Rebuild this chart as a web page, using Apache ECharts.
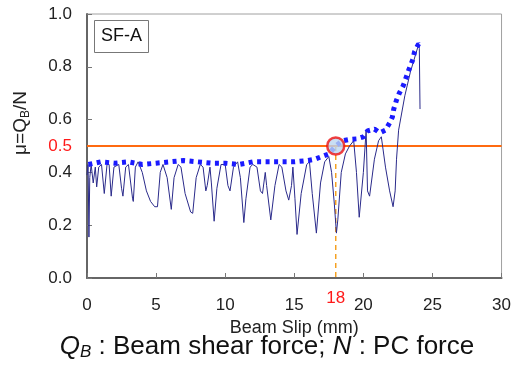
<!DOCTYPE html>
<html>
<head>
<meta charset="utf-8">
<script src="https://cdn.jsdelivr.net/npm/echarts@6/dist/echarts.min.js"></script>
<style>html,body{margin:0;padding:0;background:#fff;}#c{width:514px;height:367px;}</style>
</head>
<body>
<div id="c"></div>
<script>
// Thin measured curve (beam slip mm, mu)
const slipX = [0,0.08,0.14,0.2,0.3,0.45,0.6,0.7,0.85,1.05,1.25,1.45,1.6,1.75,1.95,2.3,2.5,2.6,2.8,3.0,3.3,3.35,3.5,3.7,4.0,4.3,4.6,4.9,5.1,5.3,5.5,5.8,6.1,6.3,6.6,6.8,7.1,7.5,7.65,7.9,8.2,8.4,8.6,8.7,8.9,9.0,9.2,9.4,9.7,10.0,10.2,10.35,10.6,10.9,11.1,11.35,11.5,11.8,12.0,12.3,12.55,12.7,12.9,13.0,13.3,13.6,13.9,14.1,14.4,14.6,14.8,14.9,15.05,15.2,15.5,15.9,16.1,16.3,16.6,16.9,17.2,17.5,17.7,17.9,18.05,18.15,18.4,18.7,19.0,19.3,19.5,19.7,20.0,20.2,20.3,20.45,20.8,21.1,21.3,21.6,21.9,22.15,22.3,22.4,22.55,23.0,23.4,24.0,24.05,24.1];
const muY =   [0.39,0.43,0.155,0.38,0.43,0.36,0.42,0.345,0.42,0.43,0.32,0.43,0.43,0.31,0.42,0.43,0.34,0.31,0.42,0.43,0.30,0.29,0.42,0.44,0.40,0.33,0.29,0.27,0.27,0.40,0.43,0.38,0.26,0.38,0.43,0.42,0.32,0.25,0.245,0.38,0.43,0.42,0.33,0.35,0.42,0.36,0.215,0.34,0.43,0.43,0.35,0.33,0.42,0.44,0.38,0.21,0.30,0.42,0.43,0.42,0.33,0.32,0.40,0.35,0.22,0.35,0.43,0.42,0.33,0.295,0.35,0.42,0.30,0.165,0.32,0.43,0.44,0.32,0.17,0.36,0.44,0.46,0.40,0.28,0.17,0.22,0.40,0.47,0.50,0.52,0.40,0.23,0.40,0.56,0.33,0.31,0.45,0.52,0.535,0.42,0.33,0.27,0.33,0.45,0.56,0.69,0.78,0.885,0.87,0.64];
// Envelope (dotted)
const envX = [0.1,1,2,3,4,5,6,7,8,9,10,11,12,13,14,15,16,16.5,17,17.5,18,18.5,19,19.5,20,20.3,20.8,21.2,21.6,21.9,22.1,22.2,22.4,22.6,22.9,23.1,23.3,23.6,23.7,24.0,24.2];
const envY = [0.43,0.44,0.435,0.44,0.43,0.435,0.44,0.445,0.44,0.435,0.435,0.43,0.44,0.44,0.44,0.44,0.445,0.45,0.46,0.47,0.50,0.52,0.525,0.527,0.535,0.557,0.564,0.55,0.56,0.587,0.61,0.64,0.674,0.70,0.73,0.76,0.79,0.83,0.856,0.887,0.875];
const xTicks = [0,5,10,15,20,25,30];
const yTicks = [0,0.2,0.4,0.6,0.8,1.0];
const muLimit = 0.5;
const slipAtLimit = 18;
const specimen = 'SF-A';

const FONT = 'Liberation Sans';
const chart = echarts.init(document.getElementById('c'), null, {renderer:'canvas'});
const thin = slipX.map((x,i)=>[x,muY[i]]);
const env = envX.map((x,i)=>[x,envY[i]]);

chart.setOption({
  animation:false,
  grid:{left:87,right:7,top:14,bottom:89,show:true,borderColor:'#a0a0a0',borderWidth:1,backgroundColor:'transparent'},
  xAxis:{type:'value',min:0,max:30,interval:5,
    name:'Beam Slip (mm)',nameLocation:'middle',nameGap:36,
    nameTextStyle:{fontFamily:FONT,fontSize:18,color:'#222'},
    axisLine:{show:true,lineStyle:{color:'#666',width:2}},
    axisTick:{show:true,inside:true,length:5,lineStyle:{color:'#777'}},
    axisLabel:{fontFamily:FONT,fontSize:17,color:'#222',margin:19,formatter:v=>xTicks.includes(v)?String(v):''},
    splitLine:{show:false}},
  yAxis:{type:'value',min:0,max:1,interval:0.2,
    axisLine:{show:true,lineStyle:{color:'#666',width:2}},
    axisTick:{show:true,inside:true,length:5,lineStyle:{color:'#777'}},
    axisLabel:{fontFamily:FONT,fontSize:17,color:'#222',margin:15,formatter:v=>yTicks.some(t=>Math.abs(t-v)<1e-9)?v.toFixed(1):''},
    splitLine:{show:false}},
  series:[
    {type:'line',data:[[0,muLimit],[30,muLimit]],symbol:'none',lineStyle:{color:'#ff6a10',width:2},z:2,silent:true},
    {type:'line',data:[[slipAtLimit,muLimit],[slipAtLimit,0]],symbol:'none',lineStyle:{color:'#f5a020',width:1.5,type:[5,4]},z:2},
    {type:'line',data:thin,symbol:'none',lineStyle:{color:'#2a2a8a',width:1},z:3},
    {type:'line',data:env,symbol:'none',lineStyle:{color:'#1a1aff',width:5,type:[4,4.5]},z:4},
    {type:'scatter',data:[[slipAtLimit,muLimit]],symbol:'circle',symbolSize:17,
      itemStyle:{color:'#bcd6f0',borderColor:'#ee1111',borderWidth:2.5},z:5}
  ]
});

function addGraphics(){
  const p05 = chart.convertToPixel({gridIndex:0},[0,muLimit]);
  const p18 = chart.convertToPixel({gridIndex:0},[slipAtLimit,0]);
  chart.setOption({graphic:[
    {type:'text',x:p05[0]-15,y:p05[1],style:{text:'0.5',fill:'#ff1a1a',font:'17px '+FONT,align:'right',verticalAlign:'middle'}},
    {type:'text',x:p18[0],y:p18[1]+20,style:{text:'18',fill:'#ff1a1a',font:'17px '+FONT,align:'center',verticalAlign:'middle'}},
    {type:'group',left:94,top:20,children:[
      {type:'rect',shape:{x:0,y:0,width:54,height:32},style:{fill:'#fff',stroke:'#777',lineWidth:1}},
      {type:'text',x:27,y:16,style:{text:specimen,fill:'#111',font:'18px '+FONT,align:'center',verticalAlign:'middle'}}
    ]},
    {type:'text',x:21,y:123,rotation:Math.PI/2,style:{
      text:'{a|μ=Q}{b|B}{a|/N}',align:'center',verticalAlign:'middle',
      rich:{a:{fontFamily:FONT,fontSize:19,fill:'#222',lineHeight:22,verticalAlign:'middle'},
            b:{fontFamily:FONT,fontSize:12,fill:'#222',lineHeight:22,verticalAlign:'bottom'}}}},
    {type:'text',x:267,y:347,style:{
      text:'{q|Q}{s|B}{n| : Beam shear force; }{q|N}{n| : PC force}',align:'center',verticalAlign:'middle',
      rich:{q:{fontFamily:FONT,fontStyle:'italic',fontSize:26,fill:'#111',lineHeight:28},
            s:{fontFamily:FONT,fontStyle:'italic',fontSize:17,fill:'#111',lineHeight:14,verticalAlign:'bottom'},
            n:{fontFamily:FONT,fontSize:26,fill:'#111',lineHeight:28}}}}
  ]});
}
addGraphics();
</script>
</body>
</html>
